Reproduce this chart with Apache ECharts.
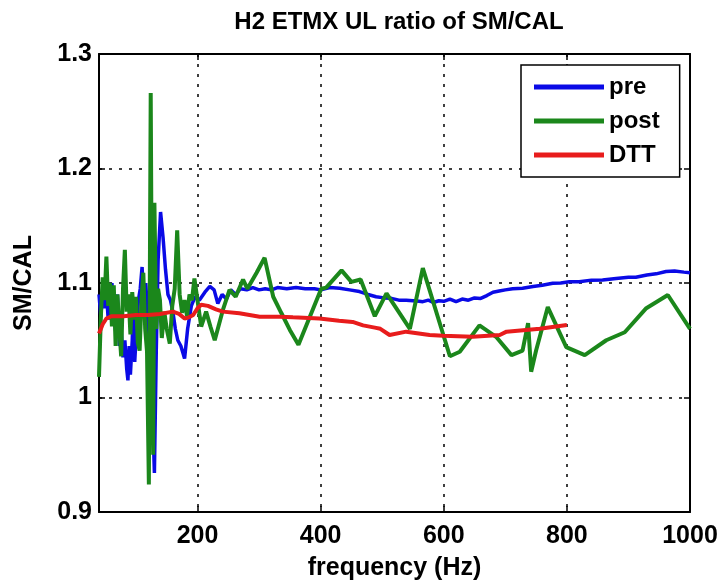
<!DOCTYPE html>
<html><head><meta charset="utf-8">
<script src="https://cdn.jsdelivr.net/npm/echarts@6/dist/echarts.min.js"></script>
<style>html,body{margin:0;padding:0;background:#fff}#c{width:724px;height:586px}</style>
</head><body><div id="c"></div>
<script>
const titleText = 'H2 ETMX UL ratio of SM/CAL';
const xName = 'frequency (Hz)';
const yName = 'SM/CAL';
const seriesNames = ['pre', 'post', 'DTT'];
const xTicks = [200, 400, 600, 800, 1000];

const preFreq = [40,43,46,49,52,55,58,61,64,67,70,73,76,79,82,85,87,89,91,94,96,98,101,104,107,110,113,116,119,122,125,128,130,133,136,140,144,148,152,156,160,164,168,173,179,184,190,196,203,212,220,227,233,240,247,254,262,270,280,290,300,310,320,330,345,360,375,390,400,415,431,447,463,477,490,503,515,527,539,550,560,566,575,583,592,600,610,620,630,640,650,660,670,680,690,700,712,728,745,760,777,790,804,820,840,858,880,900,912,930,945,961,975,990,1000];
const preVal = [1.090,1.070,1.095,1.078,1.092,1.068,1.088,1.100,1.075,1.058,1.090,1.045,1.060,1.035,1.050,1.025,1.015,1.045,1.020,1.050,1.085,1.031,1.060,1.085,1.095,1.114,1.080,1.100,1.070,1.040,1.010,0.970,0.934,1.040,1.120,1.162,1.140,1.112,1.090,1.085,1.075,1.060,1.050,1.045,1.034,1.060,1.080,1.088,1.085,1.092,1.097,1.094,1.082,1.090,1.086,1.094,1.090,1.095,1.094,1.096,1.094,1.095,1.094,1.096,1.095,1.096,1.095,1.095,1.094,1.096,1.0955,1.094,1.0925,1.090,1.088,1.087,1.0866,1.085,1.085,1.0845,1.084,1.0837,1.085,1.083,1.0845,1.084,1.086,1.0837,1.086,1.085,1.087,1.0865,1.089,1.092,1.093,1.094,1.095,1.0955,1.097,1.098,1.0997,1.100,1.101,1.101,1.1025,1.1026,1.104,1.105,1.105,1.107,1.108,1.110,1.1105,1.1095,1.109];

const postFreq = [40,43,46,49,52,55,58,61,64,67,70,73,76,79,82,85,88,91,94,97,100,103,106,109,112,115,118,121,124,126,128,130,133,136,139,142,146,150,155,159,163,167,171,175,179,183,187,191,195,198,206,214,221,228,241,252,262,274,281,296,309,323,336,350,364,401,409,434,450,465,488,507,545,566,610,626,658,685,710,728,737,742,750,769,799,829,864,894,929,964,1000];
const postVal = [1.018,1.070,1.105,1.085,1.123,1.080,1.100,1.062,1.098,1.045,1.090,1.060,1.036,1.095,1.129,1.075,1.090,1.055,1.092,1.068,1.088,1.048,1.041,1.085,1.109,1.060,1.040,0.924,1.266,1.060,0.950,1.170,1.060,1.095,1.085,1.052,1.075,1.060,1.047,1.080,1.095,1.146,1.090,1.074,1.085,1.071,1.090,1.085,1.104,1.104,1.062,1.075,1.062,1.050,1.076,1.094,1.088,1.103,1.095,1.109,1.122,1.088,1.074,1.059,1.046,1.095,1.096,1.111,1.101,1.103,1.071,1.091,1.060,1.113,1.036,1.040,1.063,1.053,1.037,1.041,1.065,1.0225,1.041,1.079,1.044,1.037,1.050,1.057,1.078,1.0895,1.060];

const dttFreq = [40,46,52,60,80,100,120,139,160,170,179,186,193,200,206,217,230,241,268,301,334,355,398,430,452,469,488,497,512,539,577,599,647,691,702,756,800];
const dttVal = [1.056,1.064,1.069,1.071,1.071,1.072,1.072,1.073,1.075,1.073,1.069,1.070,1.072,1.078,1.081,1.080,1.077,1.075,1.0735,1.0706,1.0706,1.0700,1.069,1.067,1.066,1.063,1.061,1.060,1.0546,1.0575,1.0546,1.054,1.053,1.0546,1.0575,1.060,1.0633];

const zip = (f, v) => f.map((x, i) => [x, v[i]]);
const FONT = 'Liberation Sans';
const colors = ['#0a0ae6', '#1b871b', '#e81c1c'];
const gridLine = { show: true, lineStyle: { color: '#000', type: [3, 7], width: 1.5 } };
const tickLabel = { fontFamily: FONT, fontWeight: 'bold', fontSize: 25, color: '#000', formatter: v => String(v) };

const chart = echarts.init(document.getElementById('c'), null, { renderer: 'canvas' });
chart.setOption({
  animation: false,
  backgroundColor: '#fff',
  title: {
    text: titleText, left: 394, top: 5, textAlign: 'center',
    textStyle: { fontFamily: FONT, fontWeight: 'bold', fontSize: 24, color: '#000' }
  },
  grid: { left: 99, right: 34, top: 54, bottom: 74, containLabel: false },
  legend: {
    data: seriesNames, orient: 'vertical', left: 521, top: 65,
    backgroundColor: '#fff', borderColor: '#000', borderWidth: 1.5,
    padding: [10, 20, 10, 13], itemGap: 10, itemWidth: 70, itemHeight: 5, itemTextGap: 7,
    icon: 'rect',
    textStyle: { fontFamily: FONT, fontWeight: 'bold', fontSize: 24, color: '#000', lineHeight: 24 }
  },
  xAxis: [{
    type: 'value', min: 40, max: 1000, position: 'bottom',
    name: xName, nameLocation: 'middle', nameGap: 44,
    nameTextStyle: { fontFamily: FONT, fontWeight: 'bold', fontSize: 25, color: '#000' },
    axisLine: { show: true, onZero: false, lineStyle: { color: '#000', width: 2 } },
    axisTick: { show: true, inside: true, length: 6, customValues: xTicks, lineStyle: { color: '#000', width: 1.5 } },
    axisLabel: Object.assign({ customValues: xTicks, margin: 12 }, tickLabel),
    splitLine: gridLine
  }, {
    type: 'value', min: 40, max: 1000, position: 'top',
    axisLine: { show: true, onZero: false, lineStyle: { color: '#000', width: 2 } },
    axisTick: { show: true, inside: true, length: 6, customValues: xTicks, lineStyle: { color: '#000', width: 1.5 } },
    axisLabel: { show: false }, splitLine: { show: false }
  }],
  yAxis: [{
    type: 'value', min: 0.9, max: 1.3, interval: 0.1, position: 'left',
    name: yName, nameLocation: 'middle', nameGap: 62, nameRotate: 90,
    nameTextStyle: { fontFamily: FONT, fontWeight: 'bold', fontSize: 25, color: '#000' },
    axisLine: { show: true, onZero: false, lineStyle: { color: '#000', width: 2 } },
    axisTick: { show: true, inside: true, length: 6, lineStyle: { color: '#000', width: 1.5 } },
    axisLabel: Object.assign({ margin: 7 }, tickLabel),
    splitLine: gridLine
  }, {
    type: 'value', min: 0.9, max: 1.3, interval: 0.1, position: 'right',
    axisLine: { show: true, onZero: false, lineStyle: { color: '#000', width: 2 } },
    axisTick: { show: true, inside: true, length: 6, lineStyle: { color: '#000', width: 1.5 } },
    axisLabel: { show: false }, splitLine: { show: false }
  }],
  series: [
    { name: seriesNames[0], type: 'line', data: zip(preFreq, preVal), showSymbol: false, symbol: 'none',
      color: colors[0], lineStyle: { width: 3.5, color: colors[0] }, z: 2 },
    { name: seriesNames[1], type: 'line', data: zip(postFreq, postVal), showSymbol: false, symbol: 'none',
      color: colors[1], lineStyle: { width: 4, color: colors[1] }, z: 3 },
    { name: seriesNames[2], type: 'line', data: zip(dttFreq, dttVal), showSymbol: false, symbol: 'none',
      color: colors[2], lineStyle: { width: 4, color: colors[2] }, z: 4 }
  ]
});
</script>
</body></html>
